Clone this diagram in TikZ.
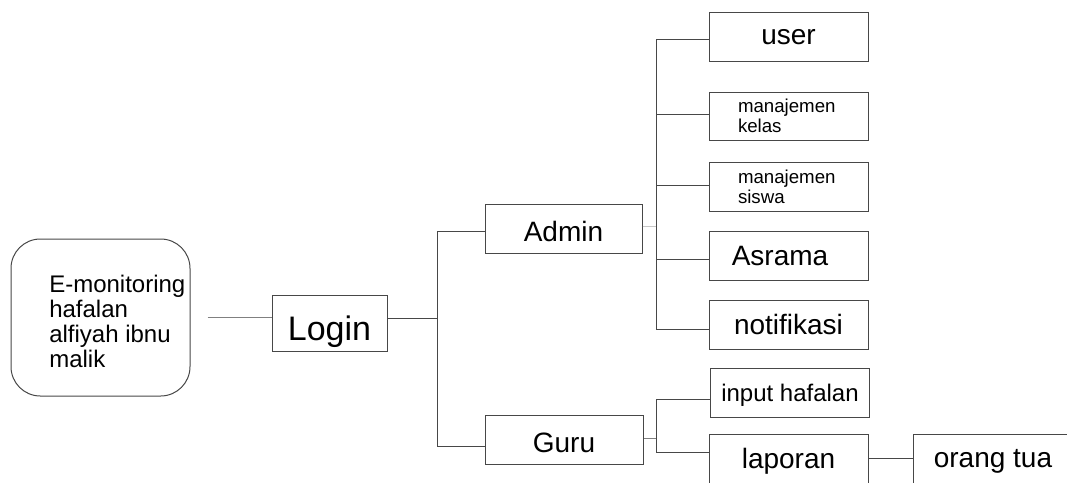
\documentclass[tikz,border=0pt]{standalone}
\usepackage{fontspec}
\setmainfont{Liberation Sans}
\begin{document}
\begin{tikzpicture}[x=0.75pt,y=-0.75pt,
  box/.style={draw=black!72,line width=0.75pt,rectangle,inner sep=0pt,
    minimum width=119.25pt,minimum height=36.75pt,text depth=0pt,
    font=\fontsize{21}{24}\selectfont},
  small/.style={box,font=\fontsize{14}{15}\selectfont,align=left,text width=75.75pt,text depth=,},
  ln/.style={draw=black!72,line width=0.75pt},
  lnl/.style={draw=black!22,line width=0.75pt},
  lnm/.style={draw=black!50,line width=0.75pt}]
\useasboundingbox (0,0) rectangle (1067,482);
\clip (0,0) rectangle (1067,482);
% root
\node[draw=black!72,line width=0.75pt,rounded corners=22pt,minimum width=134.25pt,
  minimum height=117.75pt,inner sep=0pt] (root) at (100.5,317.5) {};
\node[anchor=west,align=left,inner sep=0pt,font=\fontsize{18}{18.75}\selectfont]
  (roottext) at (49,321) {E-monitoring\\hafalan\\alfiyah ibnu\\malik};
% level 1
\node[box,minimum width=86.25pt,minimum height=42pt,text height=25.8pt,
  font=\fontsize{25.5}{28}\selectfont] (login) at (329.5,323) {Login};
\node[box,minimum width=117.75pt,text height=20.2pt] (admin) at (563.5,228.5) {Admin};
\node[box,minimum width=118.5pt,text height=20.2pt] (guru) at (564,439.5) {Guru};
% admin children
\node[box] (user) at (788.5,36.5) {user};
\node[small,minimum height=36pt] (kelas) at (788.5,116) {manajemen\\kelas};
\node[small] (siswa) at (788.5,186.5) {manajemen\\siswa};
\node[box] (asrama) at (788.5,255.5) {Asrama\kern12.75pt\relax};
\node[box] (notif) at (788.5,324.5) {notifikasi};
% guru children
\node[box,font=\fontsize{18}{20}\selectfont] (input) at (790,392.5) {input hafalan};
\node[box,minimum width=119.25pt] (laporan) at (788.5,458.5) {laporan};
\node[box,minimum width=120pt] (orang) at (993,458.5) {orang tua};
% connectors
\coordinate (jl) at (437,318);
\coordinate (ja) at (437,231);
\coordinate (jg) at (437,446);
\draw[lnm] ([xshift=12.75pt]root.east) -- (login.west |- root.east);
\draw[ln] (login.east |- jl) -- (jl);
\draw[ln] (admin.west |- ja) -- (ja) -- (jg) -- (guru.west |- jg);
% admin tree
\coordinate (va) at (656,226);
\coordinate (vt) at (656,39);
\coordinate (bk) at (656,114);
\coordinate (bs) at (656,185);
\coordinate (ba) at (656,259);
\coordinate (vb) at (656,329);
\draw[lnl] (admin.east |- va) -- (va);
\draw[ln] (user.west |- vt) -- (vt) -- (vb) -- (notif.west |- vb);
\draw[ln] (bk) -- (kelas.west |- bk);
\draw[ln] (bs) -- (siswa.west |- bs);
\draw[ln] (ba) -- (asrama.west |- ba);
% guru tree
\coordinate (vg) at (656,438);
\coordinate (gi) at (656,399);
\coordinate (gl) at (656,452);
\draw[lnm] (guru.east |- vg) -- (vg);
\draw[ln] (input.west |- gi) -- (gi) -- (gl) -- (laporan.west |- gl);
\draw[ln] (laporan.east) -- (orang.west);
\end{tikzpicture}
\end{document}
